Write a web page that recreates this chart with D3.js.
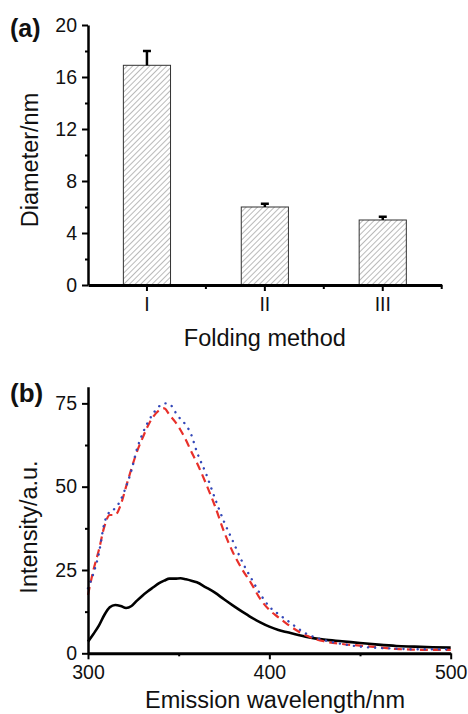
<!DOCTYPE html>
<html>
<head>
<meta charset="utf-8">
<script src="https://cdn.jsdelivr.net/npm/d3@7"></script>
<style>
  body { margin: 0; background: #fff; }
  text { font-family: "Liberation Sans", Arial, Helvetica, sans-serif; fill: #111; }
</style>
</head>
<body>
<svg id="chart"></svg>
<script>
const width = 468;
const height = 714;

// (a) particle diameter per folding method
const folds = ["I", "II", "III"];
const diameter = [16.9, 6.0, 5.0];
const diameterErr = [1.1, 0.25, 0.25];
const diamTicks = [0, 4, 8, 12, 16, 20];
const diamMinor = [2, 6, 10, 14, 18];

// (b) emission spectra
const wavelength = [300, 303, 306, 309, 312, 315, 318, 321, 324, 327, 330, 333, 336, 339, 342, 345, 348, 351, 354, 357,
  360, 365, 370, 375, 380, 385, 390, 395, 400, 405, 410, 420, 430, 440, 450, 460, 470, 480, 490, 500];
const blackSeries = [3.5, 5.8, 8.3, 11.5, 13.8, 14.5, 14.2, 13.6, 14.2, 15.8, 17.3, 18.6, 19.8, 21.0, 21.8, 22.4, 22.4, 22.5, 22.2, 21.8,
  21.3, 19.8, 18.2, 16.2, 14.3, 12.5, 10.8, 9.3, 8.0, 7.0, 6.3, 5.0, 4.1, 3.6, 3.1, 2.6, 2.2, 2.0, 1.8, 1.7];
const redSeries = [17.5, 25, 31, 38, 41.5, 41.5, 44.5, 50, 55.5, 60.5, 64.5, 68.2, 71, 72.8, 73.5, 71.5, 69.5, 67, 64, 60.5,
  57.2, 51, 44.2, 36.5, 30.2, 25.2, 21, 16.3, 13, 10.8, 8.7, 5.4, 3.6, 2.8, 2.3, 1.8, 1.3, 1.1, 1.0, 1.0];
const blueSeries = [19.5, 24, 30, 39, 42.5, 43.5, 46, 50, 55, 61.3, 65.8, 69.3, 72, 74, 75, 74.8, 72.5, 70.3, 68.5, 65.5,
  60.5, 54, 46.5, 39.5, 33.5, 27.5, 22.5, 17.8, 14, 11.8, 9.8, 6.0, 4.0, 2.8, 2.0, 1.6, 1.4, 1.2, 1.2, 1.2];
const intTicks = [0, 25, 50, 75];
const intMinor = [12.5, 37.5, 62.5];
const wlTicks = [300, 400, 500];
const wlMinor = [350, 450];

const svg = d3.select("#chart")
  .attr("width", width)
  .attr("height", height)
  .attr("viewBox", `0 0 ${width} ${height}`);

// pattern de rayado para las barras
const defs = svg.append("defs");
defs.append("pattern")
  .attr("id", "hatch")
  .attr("patternUnits", "userSpaceOnUse")
  .attr("width", 4)
  .attr("height", 4)
  .attr("patternTransform", "rotate(45)")
  .append("line")
  .attr("x1", 0).attr("y1", 0)
  .attr("x2", 0).attr("y2", 4)
  .attr("stroke", "#666")
  .attr("stroke-width", 0.9);

function styleAxis(g, w) {
  g.select(".domain").attr("stroke", "#000").attr("stroke-width", w);
  g.selectAll(".tick line").attr("stroke", "#000").attr("stroke-width", 2);
  g.selectAll(".tick text").style("font-size", "19.5px").attr("fill", "#111");
}

// ---------- panel (a) ----------
const xA = d3.scaleBand().domain(folds).range([88, 441.7]).paddingInner(0.6).paddingOuter(0.3);
const yA = d3.scaleLinear().domain([0, 20]).range([285, 25]);

const gA = svg.append("g");

gA.selectAll("rect.bar")
  .data(folds)
  .enter()
  .append("rect")
  .attr("class", "bar")
  .attr("x", d => xA(d))
  .attr("y", (d, i) => yA(diameter[i]))
  .attr("width", xA.bandwidth())
  .attr("height", (d, i) => yA(0) - yA(diameter[i]))
  .attr("fill", "url(#hatch)")
  .attr("stroke", "#333")
  .attr("stroke-width", 1);

// barras de error (solo hacia arriba)
const err = gA.selectAll("g.err")
  .data(folds)
  .enter()
  .append("g")
  .attr("class", "err");
err.append("line")
  .attr("x1", d => xA(d) + xA.bandwidth() / 2)
  .attr("x2", d => xA(d) + xA.bandwidth() / 2)
  .attr("y1", (d, i) => yA(diameter[i]))
  .attr("y2", (d, i) => yA(diameter[i] + diameterErr[i]))
  .attr("stroke", "#000")
  .attr("stroke-width", 2.5);
err.append("line")
  .attr("x1", d => xA(d) + xA.bandwidth() / 2 - 4)
  .attr("x2", d => xA(d) + xA.bandwidth() / 2 + 4)
  .attr("y1", (d, i) => yA(diameter[i] + diameterErr[i]))
  .attr("y2", (d, i) => yA(diameter[i] + diameterErr[i]))
  .attr("stroke", "#000")
  .attr("stroke-width", 2.5);

gA.append("g")
  .attr("transform", "translate(88,0)")
  .call(d3.axisLeft(yA).tickValues(diamMinor).tickSize(3).tickFormat(""))
  .call(g => g.select(".domain").remove())
  .selectAll(".tick line").attr("stroke", "#000").attr("stroke-width", 2);

gA.append("g")
  .attr("transform", "translate(88,0)")
  .call(d3.axisLeft(yA).tickValues(diamTicks).tickSize(6).tickSizeOuter(0).tickPadding(5))
  .call(g => styleAxis(g, 2.5));

// ticks menores en los bordes de las bandas
gA.append("g")
  .selectAll("line")
  .data(folds)
  .enter()
  .append("line")
  .attr("x1", d => xA(d) + xA.bandwidth() / 2 + xA.step() / 2)
  .attr("x2", d => xA(d) + xA.bandwidth() / 2 + xA.step() / 2)
  .attr("y1", yA(0))
  .attr("y2", yA(0) + 4)
  .attr("stroke", "#000")
  .attr("stroke-width", 2);

gA.append("g")
  .attr("transform", `translate(0,${yA(0)})`)
  .call(d3.axisBottom(xA).tickSize(6).tickSizeOuter(0).tickPadding(6))
  .call(g => styleAxis(g, 3.2));

gA.append("text")
  .attr("x", 10).attr("y", 37)
  .style("font-size", "25px").style("font-weight", "bold")
  .text("(a)");

gA.append("text")
  .attr("transform", "translate(38,160) rotate(-90)")
  .attr("text-anchor", "middle")
  .style("font-size", "23.5px")
  .text("Diameter/nm");

gA.append("text")
  .attr("x", (88 + 441.7) / 2).attr("y", 346)
  .attr("text-anchor", "middle")
  .style("font-size", "23.5px")
  .text("Folding method");

// ---------- panel (b) ----------
const xB = d3.scaleLinear().domain([300, 500]).range([88, 450.7]);
const yB = d3.scaleLinear().domain([0, 80]).range([653.3, 386.7]);

const gB = svg.append("g");

const line = (vals) => d3.line()
  .x((d, i) => xB(wavelength[i]))
  .y(d => yB(d))
  .curve(d3.curveMonotoneX)(vals);

gB.append("path")
  .attr("d", line(blackSeries))
  .attr("fill", "none")
  .attr("stroke", "#000")
  .attr("stroke-width", 2.6);

gB.append("path")
  .attr("d", line(redSeries))
  .attr("fill", "none")
  .attr("stroke", "#e8302a")
  .attr("stroke-width", 2.2)
  .attr("stroke-dasharray", "8 5");

gB.append("path")
  .attr("d", line(blueSeries))
  .attr("fill", "none")
  .attr("stroke", "#3347b8")
  .attr("stroke-width", 2.4)
  .attr("stroke-linecap", "round")
  .attr("stroke-dasharray", "0.1 7");

gB.append("g")
  .attr("transform", "translate(88,0)")
  .call(d3.axisLeft(yB).tickValues(intMinor).tickSize(3).tickFormat(""))
  .call(g => g.select(".domain").remove())
  .selectAll(".tick line").attr("stroke", "#000").attr("stroke-width", 2);

gB.append("g")
  .attr("transform", "translate(88,0)")
  .call(d3.axisLeft(yB).tickValues(intTicks).tickSize(6).tickSizeOuter(0).tickPadding(5))
  .call(g => styleAxis(g, 2.5));

gB.append("g")
  .attr("transform", `translate(0,${yB(0)})`)
  .call(d3.axisBottom(xB).tickValues(wlMinor).tickSize(3).tickFormat(""))
  .call(g => g.select(".domain").remove())
  .selectAll(".tick line").attr("stroke", "#000").attr("stroke-width", 2);

gB.append("g")
  .attr("transform", `translate(0,${yB(0)})`)
  .call(d3.axisBottom(xB).tickValues(wlTicks).tickSize(6).tickSizeOuter(0).tickPadding(6))
  .call(g => styleAxis(g, 3));

gB.append("text")
  .attr("x", 10).attr("y", 402)
  .style("font-size", "26px").style("font-weight", "bold")
  .text("(b)");

gB.append("text")
  .attr("transform", "translate(37,527) rotate(-90)")
  .attr("text-anchor", "middle")
  .style("font-size", "23.5px")
  .text("Intensity/a.u.");

gB.append("text")
  .attr("x", 275).attr("y", 708)
  .attr("text-anchor", "middle")
  .style("font-size", "23.5px")
  .text("Emission wavelength/nm");
</script>
</body>
</html>
